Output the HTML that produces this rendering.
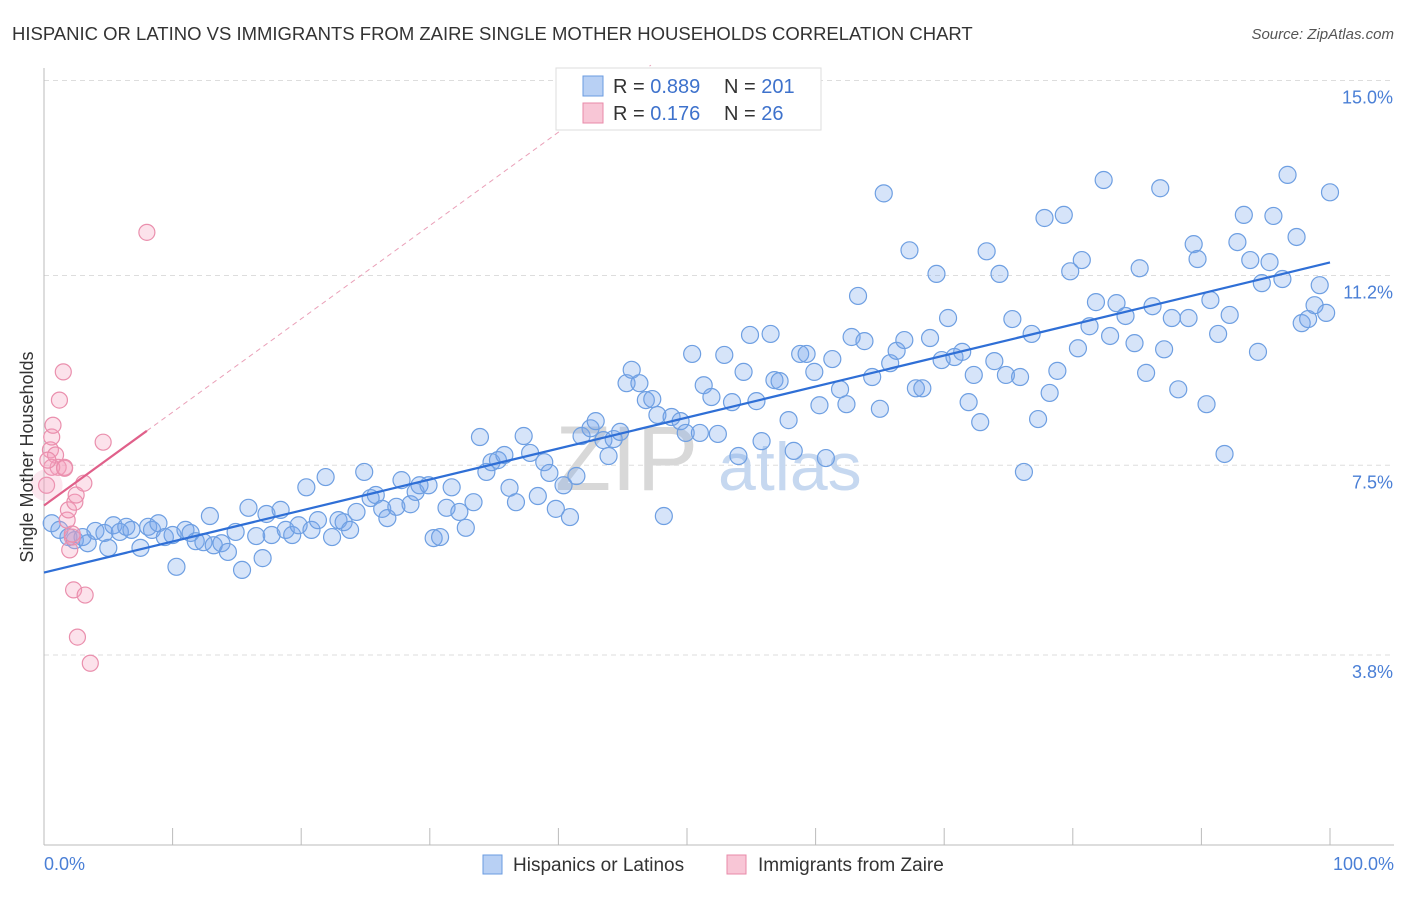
<!DOCTYPE html>
<html><head><meta charset="utf-8">
<style>
body{margin:0;background:#fff;font-family:"Liberation Sans",sans-serif;}
svg text{font-family:"Liberation Sans",sans-serif;}
</style></head>
<body>
<svg width="1406" height="892" viewBox="0 0 1406 892">
<text x="12" y="40" font-size="18.5" fill="#333">HISPANIC OR LATINO VS IMMIGRANTS FROM ZAIRE SINGLE MOTHER HOUSEHOLDS CORRELATION CHART</text>
<text x="1394" y="39" font-size="15" fill="#555" font-style="italic" text-anchor="end">Source: ZipAtlas.com</text>
<g id="grid"></g>
<g>
<text x="555" y="490" font-size="92" fill="#d8d8d8" font-family="Liberation Serif, serif">ZIP</text>
<text x="718" y="490" font-size="68" fill="#c6d8f0">atlas</text>
</g>
<g id="plot"></g>
<text x="33" y="457" font-size="18" fill="#333" text-anchor="middle" transform="rotate(-90 33 457)">Single Mother Households</text>
<text x="44" y="870" font-size="18" fill="#4a7fd6">0.0%</text>
<text x="1394" y="870" font-size="18" fill="#4a7fd6" text-anchor="end">100.0%</text>
<g>
<rect x="556" y="68" width="265" height="62" fill="#fff" stroke="#ddd"/>
<rect x="583" y="76" width="20" height="20" fill="#b8d0f4" stroke="#6a9be0"/>
<rect x="583" y="103" width="20" height="20" fill="#f8c6d6" stroke="#e88aa8"/>
<text x="613" y="93" font-size="20" fill="#333">R = <tspan fill="#3e72cc">0.889</tspan></text>
<text x="724" y="93" font-size="20" fill="#333">N = <tspan fill="#3e72cc">201</tspan></text>
<text x="613" y="120" font-size="20" fill="#333">R =  <tspan fill="#3e72cc">0.176</tspan></text>
<text x="724" y="120" font-size="20" fill="#333">N =   <tspan fill="#3e72cc">26</tspan></text>
</g>
<g>
<rect x="483" y="855" width="19" height="19" fill="#b8d0f4" stroke="#6a9be0"/>
<text x="513" y="871" font-size="19" fill="#333">Hispanics or Latinos</text>
<rect x="727" y="855" width="19" height="19" fill="#f8c6d6" stroke="#e88aa8"/>
<text x="758" y="871" font-size="19" fill="#333">Immigrants from Zaire</text>
</g>
</svg>
<script>
const yTicks=[15.0,11.2,7.5,3.8];
const yTickLabels=["15.0%","11.2%","7.5%","3.8%"];
const xTicks=[0,10,20,30,40,50,60,70,80,90,100];
const blueX=[0.6,1.2,1.9,2.4,3.0,3.4,4.0,4.7,5.0,5.4,5.9,6.4,6.8,7.5,8.1,8.4,8.9,9.4,10.0,10.3,11.0,11.4,11.8,12.4,12.9,13.2,13.8,14.3,14.9,15.4,15.9,16.5,17.0,17.3,17.7,18.4,18.8,19.3,19.8,20.4,20.8,21.3,21.9,22.4,22.9,23.3,23.8,24.3,24.9,25.4,25.8,26.3,26.7,27.4,27.8,28.5,28.9,29.2,29.9,30.3,30.8,31.3,31.7,32.3,32.8,33.4,33.9,34.4,34.8,35.3,35.8,36.2,36.7,37.3,37.8,38.4,38.9,39.3,39.8,40.4,40.9,41.4,41.8,42.5,42.9,43.5,43.9,44.3,44.8,45.3,45.7,46.3,46.8,47.3,47.7,48.2,48.8,49.5,49.9,50.4,51.0,51.3,51.9,52.4,52.9,53.5,54.0,54.4,54.9,55.4,55.8,56.5,56.8,57.2,57.9,58.3,58.8,59.3,59.9,60.3,60.8,61.3,61.9,62.4,62.8,63.3,63.8,64.4,65.0,65.3,65.8,66.3,66.9,67.3,67.8,68.3,68.9,69.4,69.8,70.3,70.8,71.4,71.9,72.3,72.8,73.3,73.9,74.3,74.8,75.3,75.9,76.2,76.8,77.3,77.8,78.2,78.8,79.3,79.8,80.4,80.7,81.3,81.8,82.4,82.9,83.4,84.1,84.8,85.2,85.7,86.2,86.8,87.1,87.7,88.2,89.0,89.4,89.7,90.4,90.7,91.3,91.8,92.2,92.8,93.3,93.8,94.4,94.7,95.3,95.6,96.3,96.7,97.4,97.8,98.3,98.8,99.2,99.7,100.0];
const blueY=[6.37,6.24,6.10,6.04,6.10,5.98,6.22,6.18,5.89,6.33,6.20,6.30,6.24,5.89,6.30,6.24,6.37,6.10,6.14,5.52,6.24,6.18,6.02,6.00,6.51,5.94,5.98,5.81,6.20,5.46,6.67,6.12,5.69,6.55,6.14,6.63,6.24,6.14,6.33,7.07,6.24,6.43,7.27,6.10,6.43,6.39,6.24,6.59,7.37,6.86,6.92,6.65,6.47,6.69,7.21,6.74,6.98,7.11,7.11,6.08,6.10,6.67,7.07,6.59,6.28,6.78,8.05,7.37,7.56,7.60,7.70,7.06,6.78,8.07,7.74,6.90,7.56,7.35,6.65,7.11,6.49,7.29,8.07,8.22,8.36,7.99,7.68,8.01,8.15,9.10,9.36,9.10,8.77,8.79,8.48,6.51,8.44,8.36,8.13,9.67,8.13,9.06,8.83,8.11,9.65,8.73,7.68,9.32,10.04,8.75,7.97,10.06,9.16,9.14,8.38,7.78,9.67,9.67,9.32,8.67,7.64,9.57,8.98,8.69,10.00,10.80,9.92,9.22,8.60,12.80,9.49,9.73,9.94,11.69,9.00,9.00,9.98,11.23,9.55,10.37,9.61,9.71,8.73,9.26,8.34,11.67,9.53,11.23,9.26,10.35,9.22,7.37,10.06,8.40,12.32,8.91,9.34,12.38,11.28,9.78,11.50,10.21,10.68,13.06,10.02,10.66,10.41,9.88,11.34,9.30,10.60,12.90,9.76,10.37,8.98,10.37,11.81,11.52,8.69,10.72,10.06,7.72,10.43,11.85,12.38,11.50,9.71,11.05,11.46,12.36,11.13,13.16,11.95,10.27,10.35,10.62,11.01,10.47,12.82];
const pinkX=[0.2,0.5,0.6,0.7,0.9,1.1,1.2,1.5,1.6,1.8,1.9,2.0,2.2,2.3,2.4,2.5,2.6,3.1,3.2,3.6,4.6,8.0,0.6,0.3,2.2,1.6];
const pinkY=[7.11,7.80,8.05,8.28,7.70,7.46,8.77,9.32,7.46,6.43,6.63,5.85,6.10,5.07,6.78,6.92,4.15,7.15,4.97,3.64,7.95,12.04,7.46,7.60,6.16,7.44];

const NS="http://www.w3.org/2000/svg";
const X0=44,X1=1330,YB=850,PXU=51.3;
function xs(v){return X0+(X1-X0)*v/100;}
function ys(v){return YB-v*PXU;}
function mk(tag,attrs,parent){const e=document.createElementNS(NS,tag);for(const k in attrs)e.setAttribute(k,attrs[k]);parent.appendChild(e);return e;}
const grid=document.getElementById('grid'),plot=document.getElementById('plot');

yTicks.forEach((t,i)=>{
  const l=mk('line',{x1:44,x2:1394,y1:ys(t),y2:ys(t),stroke:'#ddd','stroke-dasharray':'5,4'},grid);
  
  
  const tx=mk('text',{x:1393,y:ys(t)+23,'font-size':18,fill:'#4a7fd6','text-anchor':'end'},grid);
  tx.textContent=yTickLabels[i];
  
  
});
const ax=mk('line',{x1:44,x2:1394,y1:845,y2:845,stroke:'#bbb'},grid);


const ay=mk('line',{x1:44,x2:44,y1:68,y2:845,stroke:'#bbb'},grid);


xTicks.forEach(t=>{
  const l=mk('line',{x1:xs(t),x2:xs(t),y1:828,y2:845,stroke:'#bbb'},grid);
  
  
});

function fit(xa,ya){const n=xa.length;let sx=0,sy=0,sxx=0,sxy=0;for(let i=0;i<n;i++){sx+=xa[i];sy+=ya[i];sxx+=xa[i]*xa[i];sxy+=xa[i]*ya[i];}const b=(n*sxy-sx*sy)/(n*sxx-sx*sx);return[(sy-b*sx)/n,b];}

blueX.forEach((x,i)=>{
  const c=mk('circle',{cx:xs(x),cy:ys(blueY[i]),r:8.5,fill:'rgba(120,165,235,0.3)',stroke:'#6e9fe2','stroke-width':1.2},plot);
  
  
});
pinkX.forEach((x,i)=>{
  const c=mk('circle',{cx:xs(x),cy:ys(pinkY[i]),r:8,fill:'rgba(245,160,190,0.3)',stroke:'#ea8fad','stroke-width':1.2},plot);
  
  
});
const big=mk('circle',{cx:xs(pinkX[0]),cy:ys(pinkY[0]),r:16,fill:'rgba(245,160,190,0.25)',stroke:'none'},plot);



const [ba,bb]=fit(blueX,blueY);
const bl=mk('line',{x1:xs(0),y1:ys(ba),x2:xs(100),y2:ys(ba+bb*100),stroke:'#2f6fd6','stroke-width':2.2},plot);


const [pa,pb]=fit(pinkX,pinkY);
const pmax=Math.max(...pinkX);
const pl=mk('line',{x1:xs(0),y1:ys(pa),x2:xs(pmax),y2:ys(pa+pb*pmax),stroke:'#e0608a','stroke-width':2.2},plot);


const xEnd=pb>0?Math.min(100,(15.3-pa)/pb):100;
const pd=mk('line',{x1:xs(pmax),y1:ys(pa+pb*pmax),x2:xs(xEnd),y2:ys(pa+pb*xEnd),stroke:'#eaa0b8','stroke-width':1,'stroke-dasharray':'5,4'},plot);


</script>
</body></html>
